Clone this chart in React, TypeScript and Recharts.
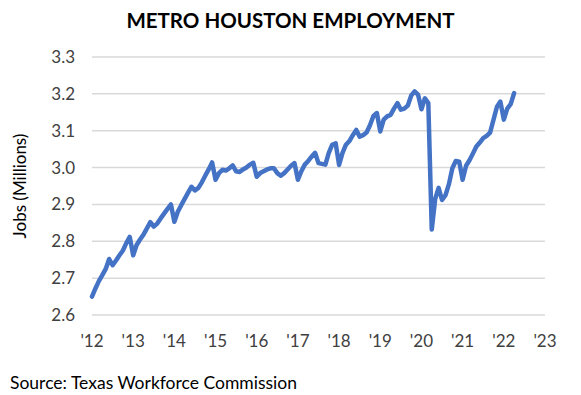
import { LineChart, Line, XAxis, YAxis, CartesianGrid, Label } from 'recharts';

// Houston metro nonfarm jobs, millions, monthly Jan..Dec
const jobs2012 = [2.650, 2.672, 2.692, 2.708, 2.725, 2.752, 2.735, 2.748, 2.762, 2.775, 2.795, 2.812];
const jobs2013 = [2.762, 2.790, 2.805, 2.818, 2.835, 2.852, 2.840, 2.848, 2.862, 2.875, 2.888, 2.900];
const jobs2014 = [2.853, 2.880, 2.898, 2.915, 2.932, 2.948, 2.938, 2.945, 2.960, 2.978, 2.995, 3.014];
const jobs2015 = [2.967, 2.985, 2.994, 2.992, 2.998, 3.006, 2.990, 2.988, 2.995, 3.000, 3.008, 3.013];
const jobs2016 = [2.975, 2.985, 2.990, 2.995, 2.998, 2.998, 2.985, 2.978, 2.985, 2.995, 3.005, 3.012];
const jobs2017 = [2.967, 2.990, 3.008, 3.018, 3.030, 3.040, 3.012, 3.010, 3.008, 3.040, 3.062, 3.066];
const jobs2018 = [3.007, 3.040, 3.062, 3.072, 3.088, 3.102, 3.084, 3.088, 3.095, 3.115, 3.140, 3.148];
const jobs2019 = [3.098, 3.130, 3.139, 3.143, 3.160, 3.175, 3.157, 3.160, 3.168, 3.195, 3.207, 3.198];
const jobs2020 = [3.158, 3.188, 3.175, 2.832, 2.915, 2.945, 2.912, 2.925, 2.955, 2.998, 3.018, 3.016];
const jobs2021 = [2.967, 3.005, 3.020, 3.038, 3.057, 3.068, 3.080, 3.086, 3.095, 3.130, 3.165, 3.179];
const jobs2022 = [3.130, 3.160, 3.172, 3.202];

const years = [2012, 2013, 2014, 2015, 2016, 2017, 2018, 2019, 2020, 2021, 2022];
const yearlyJobs = [jobs2012, jobs2013, jobs2014, jobs2015, jobs2016, jobs2017, jobs2018, jobs2019, jobs2020, jobs2021, jobs2022];

const xTicks = [2012, 2013, 2014, 2015, 2016, 2017, 2018, 2019, 2020, 2021, 2022, 2023];
const yTicks = [2.6, 2.7, 2.8, 2.9, 3.0, 3.1, 3.2, 3.3];

const data = yearlyJobs.flatMap((vals, i) =>
  vals.map((v, m) => ({ t: years[i] + m / 12, jobs: v }))
);

const FONT = 'Lato, "Open Sans", sans-serif';

export default function App() {
  return (
    <div style={{ position: 'absolute', left: 0, top: 0, width: 581, height: 395, background: '#fff', fontFamily: FONT }}>
      <div style={{ position: 'absolute', top: 8, left: 0, width: 581, textAlign: 'center', fontWeight: 700, fontSize: 20.5, color: '#000' }}>
        METRO HOUSTON EMPLOYMENT
      </div>
      <LineChart width={581} height={395} data={data} margin={{ top: 57, right: 36, bottom: 50, left: 40 }}>
        <CartesianGrid vertical={false} stroke="#d9d9d9" strokeWidth={1.5} />
        <XAxis
          dataKey="t"
          type="number"
          domain={[2012, 2023]}
          ticks={xTicks}
          tickFormatter={(v: number) => `'${String(v).slice(2)}`}
          axisLine={false}
          tickLine={false}
          tickSize={0}
          tickMargin={20}
          height={30}
          tick={{ fill: '#404040', fontSize: 17, fontFamily: FONT }}
          interval={0}
        />
        <YAxis
          type="number"
          domain={[2.6, 3.3]}
          ticks={yTicks}
          tickFormatter={(v: number) => v.toFixed(1)}
          axisLine={false}
          tickLine={false}
          tickSize={0}
          tickMargin={17}
          width={52}
          tick={{ fill: '#404040', fontSize: 17, fontFamily: FONT }}
          interval={0}
        >
          <Label
            value="Jobs (Millions)"
            angle={-90}
            position="insideLeft"
            offset={-20}
            style={{ textAnchor: 'middle', fill: '#000', fontSize: 17, fontFamily: FONT }}
          />
        </YAxis>
        <Line
          type="linear"
          dataKey="jobs"
          stroke="#4472c4"
          strokeWidth={4.5}
          dot={false}
          isAnimationActive={false}
          strokeLinejoin="round"
          strokeLinecap="round"
        />
      </LineChart>
      <div style={{ position: 'absolute', top: 372, left: 10, fontSize: 17.5, color: '#000' }}>
        Source: Texas Workforce Commission
      </div>
    </div>
  );
}
